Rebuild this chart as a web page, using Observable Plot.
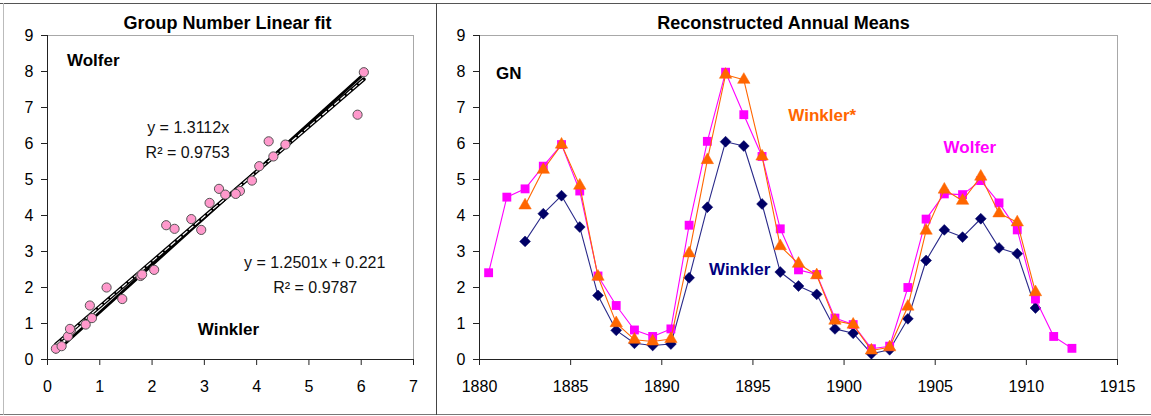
<!DOCTYPE html>
<html>
<head>
<meta charset="utf-8">
<script src="https://cdn.jsdelivr.net/npm/d3@7"></script>
<script src="https://cdn.jsdelivr.net/npm/@observablehq/plot@0.6"></script>
<style>
  html, body { margin: 0; padding: 0; background: #fff; }
  #wrap { position: relative; width: 1151px; height: 416px; background: #fff; overflow: hidden; font-family: "Liberation Sans", Arial, sans-serif; }
  .panel { position: absolute; top: 0; }
  .ln { position: absolute; }
</style>
</head>
<body>
<div id="wrap">
  <div class="panel" id="left" style="left:0px;"></div>
  <div class="panel" id="right" style="left:436px;"></div>
  <div class="ln" style="left:0;top:3px;width:1151px;height:1px;background:#555;"></div>
  <div class="ln" style="left:0;top:414px;width:1151px;height:1px;background:#777;"></div>
  <div class="ln" style="left:3px;top:3px;width:1px;height:412px;background:#bbb;"></div>
  <div class="ln" style="left:436px;top:3px;width:1px;height:412px;background:#444;"></div>
</div>
<script>
// ---- data ----
const years = [1880.5, 1881.5, 1882.5, 1883.5, 1884.5, 1885.5, 1886.5, 1887.5, 1888.5, 1889.5,
               1890.5, 1891.5, 1892.5, 1893.5, 1894.5, 1895.5, 1896.5, 1897.5, 1898.5, 1899.5,
               1900.5, 1901.5, 1902.5, 1903.5, 1904.5, 1905.5, 1906.5, 1907.5, 1908.5, 1909.5,
               1910.5, 1911.5, 1912.5];
const wolfer = [2.41, 4.51, 4.74, 5.37, 5.97, 4.68, 2.32, 1.50, 0.82, 0.64,
                0.85, 3.73, 6.06, 7.98, 6.80, 5.64, 3.63, 2.49, 2.36, 1.15,
                0.97, 0.30, 0.37, 2.00, 3.90, 4.60, 4.58, 4.97, 4.35, 3.60,
                1.68, 0.64, 0.31];
const winkler = [null, null, 3.28, 4.05, 4.55, 3.68, 1.78, 0.81, 0.45, 0.39,
                 0.43, 2.27, 4.23, 6.05, 5.93, 4.32, 2.43, 2.04, 1.81, 0.85,
                 0.73, 0.16, 0.27, 1.13, 2.75, 3.60, 3.40, 3.91, 3.10, 2.94,
                 1.43, null, null];
const winklerStar = [null, null, 4.28, 5.27, 5.97, 4.83, 2.30, 1.01, 0.55, 0.50,
                     0.57, 2.95, 5.54, 7.91, 7.77, 5.64, 3.15, 2.66, 2.34, 1.08,
                     0.97, 0.25, 0.34, 1.47, 3.58, 4.72, 4.41, 5.08, 4.06, 3.81,
                     1.87, null, null];
// trendline equations as printed on the chart
const fitSlopes = [1.3112, 1.2501];
const fitIntercepts = [0, 0.221];
const fitLabels = [["y = 1.3112x", "R² = 0.9753"], ["y = 1.2501x + 0.221", "R² = 0.9787"]];
const leftTicksX = [0, 1, 2, 3, 4, 5, 6, 7];
const ticksY = [0, 1, 2, 3, 4, 5, 6, 7, 8, 9];
const rightTicksX = [1880, 1885, 1890, 1895, 1900, 1905, 1910, 1915];

// ---- derived tables ----
const rows = years.map((yr, i) => ({year: yr, wolfer: wolfer[i], winkler: winkler[i], winklerStar: winklerStar[i]}));
const scatter = rows.filter(d => d.winkler != null && d.wolfer != null);
const xExt = d3.extent(scatter, d => d.winkler);
const fit1 = xExt.map(x => ({x, y: fitSlopes[0] * x + fitIntercepts[0]}));
const fit2 = xExt.map(x => ({x, y: fitSlopes[1] * x + fitIntercepts[1]}));

const FONT = "'Liberation Sans', Arial, sans-serif";
const fmt = d => String(d);
const common = {
  height: 416,
  marginTop: 35,
  marginBottom: 57,
  style: {fontFamily: FONT, fontSize: "16px", background: "transparent", overflow: "visible", color: "#000"}
};

const left = Plot.plot({
  ...common,
  width: 436,
  marginLeft: 47,
  marginRight: 23,
  x: {domain: [0, 7]},
  y: {domain: [0, 9]},
  marks: [
    Plot.frame({stroke: "#a8a8a8"}),
    Plot.axisX({ticks: leftTicksX, tickFormat: fmt, tickSize: 6, tickPadding: 15, fontSize: 16, label: null, stroke: "#222"}),
    Plot.axisY({ticks: ticksY, tickFormat: fmt, tickSize: 6, tickPadding: 8, fontSize: 16, label: null, stroke: "#222"}),
    Plot.ruleX([0], {stroke: "#222"}),
    Plot.ruleY([0], {stroke: "#222"}),
    Plot.line(fit1, {x: "x", y: "y", stroke: "#000", strokeWidth: 2.8}),
    Plot.line(fit2, {x: "x", y: "y", stroke: "#000", strokeWidth: 3.8}),
    Plot.line(fit2, {x: "x", y: "y", stroke: "#fff", strokeWidth: 1.2, strokeDasharray: "5,3"}),
    Plot.dot(scatter, {x: "winkler", y: "wolfer", r: 4.6, fill: "#ff99cc", stroke: "#555", strokeWidth: 1}),
    Plot.text(["Group Number Linear fit"], {frameAnchor: "top", lineAnchor: "middle", dy: -12.5, dx: -3, fontWeight: "bold", fontSize: 18, fill: "#000"}),
    Plot.text([{x: 0.875, y: 8.3, t: "Wolfer"}], {x: "x", y: "y", text: "t", fontWeight: "bold", fontSize: 17, fill: "#000"}),
    Plot.text([{x: 3.46, y: 0.83, t: "Winkler"}], {x: "x", y: "y", text: "t", fontWeight: "bold", fontSize: 17, fill: "#000"}),
    Plot.text([{x: 2.69, y: 6.44, t: fitLabels[0][0]}, {x: 2.68, y: 5.75, t: fitLabels[0][1]}], {x: "x", y: "y", text: "t", fontSize: 16, fill: "#111"}),
    Plot.text([{x: 5.11, y: 2.69, t: fitLabels[1][0]}, {x: 5.12, y: 2.0, t: fitLabels[1][1]}], {x: "x", y: "y", text: "t", fontSize: 16, fill: "#111"})
  ]
});
document.getElementById("left").appendChild(left);

const right = Plot.plot({
  ...common,
  width: 715,
  marginLeft: 43,
  marginRight: 34,
  x: {domain: [1880, 1915]},
  y: {domain: [0, 9]},
  marks: [
    Plot.frame({stroke: "#a8a8a8"}),
    Plot.axisX({ticks: rightTicksX, tickFormat: fmt, tickSize: 6, tickPadding: 15, fontSize: 16, label: null, stroke: "#222"}),
    Plot.axisY({ticks: ticksY, tickFormat: fmt, tickSize: 6, tickPadding: 8, fontSize: 16, label: null, stroke: "#222"}),
    Plot.ruleX([1880], {stroke: "#222"}),
    Plot.ruleY([0], {stroke: "#222"}),
    Plot.line(rows, {x: "year", y: "winkler", stroke: "#2a2a8a", strokeWidth: 1.1}),
    Plot.dot(rows.filter(d => d.winkler != null), {x: "year", y: "winkler", symbol: "diamond2", r: 4.9, fill: "#000066", stroke: "#000066", strokeWidth: 0.5}),
    Plot.line(rows, {x: "year", y: "wolfer", stroke: "#ff00ff", strokeWidth: 1.1}),
    Plot.dot(rows, {x: "year", y: "wolfer", symbol: "square", r: 5.0, fill: "#ff00ff", stroke: "none"}),
    Plot.line(rows, {x: "year", y: "winklerStar", stroke: "#ff6600", strokeWidth: 1.1}),
    Plot.dot(rows.filter(d => d.winklerStar != null), {x: "year", y: "winklerStar", symbol: "triangle", r: 4.6, fill: "#ff6600", stroke: "#ff6600", strokeWidth: 0.5}),
    Plot.text(["Reconstructed Annual Means"], {frameAnchor: "top", lineAnchor: "middle", dy: -12.5, dx: -15, fontWeight: "bold", fontSize: 18, fill: "#000"}),
    Plot.text([{x: 1881.6, y: 7.94, t: "GN"}], {x: "x", y: "y", text: "t", fontWeight: "bold", fontSize: 17, fill: "#000"}),
    Plot.text([{x: 1898.8, y: 6.78, t: "Winkler*"}], {x: "x", y: "y", text: "t", fontWeight: "bold", fontSize: 17, fill: "#ff6600"}),
    Plot.text([{x: 1906.9, y: 5.89, t: "Wolfer"}], {x: "x", y: "y", text: "t", fontWeight: "bold", fontSize: 17, fill: "#ff00ff"}),
    Plot.text([{x: 1894.27, y: 2.5, t: "Winkler"}], {x: "x", y: "y", text: "t", fontWeight: "bold", fontSize: 17, fill: "#000080"})
  ]
});
document.getElementById("right").appendChild(right);
</script>
</body>
</html>
